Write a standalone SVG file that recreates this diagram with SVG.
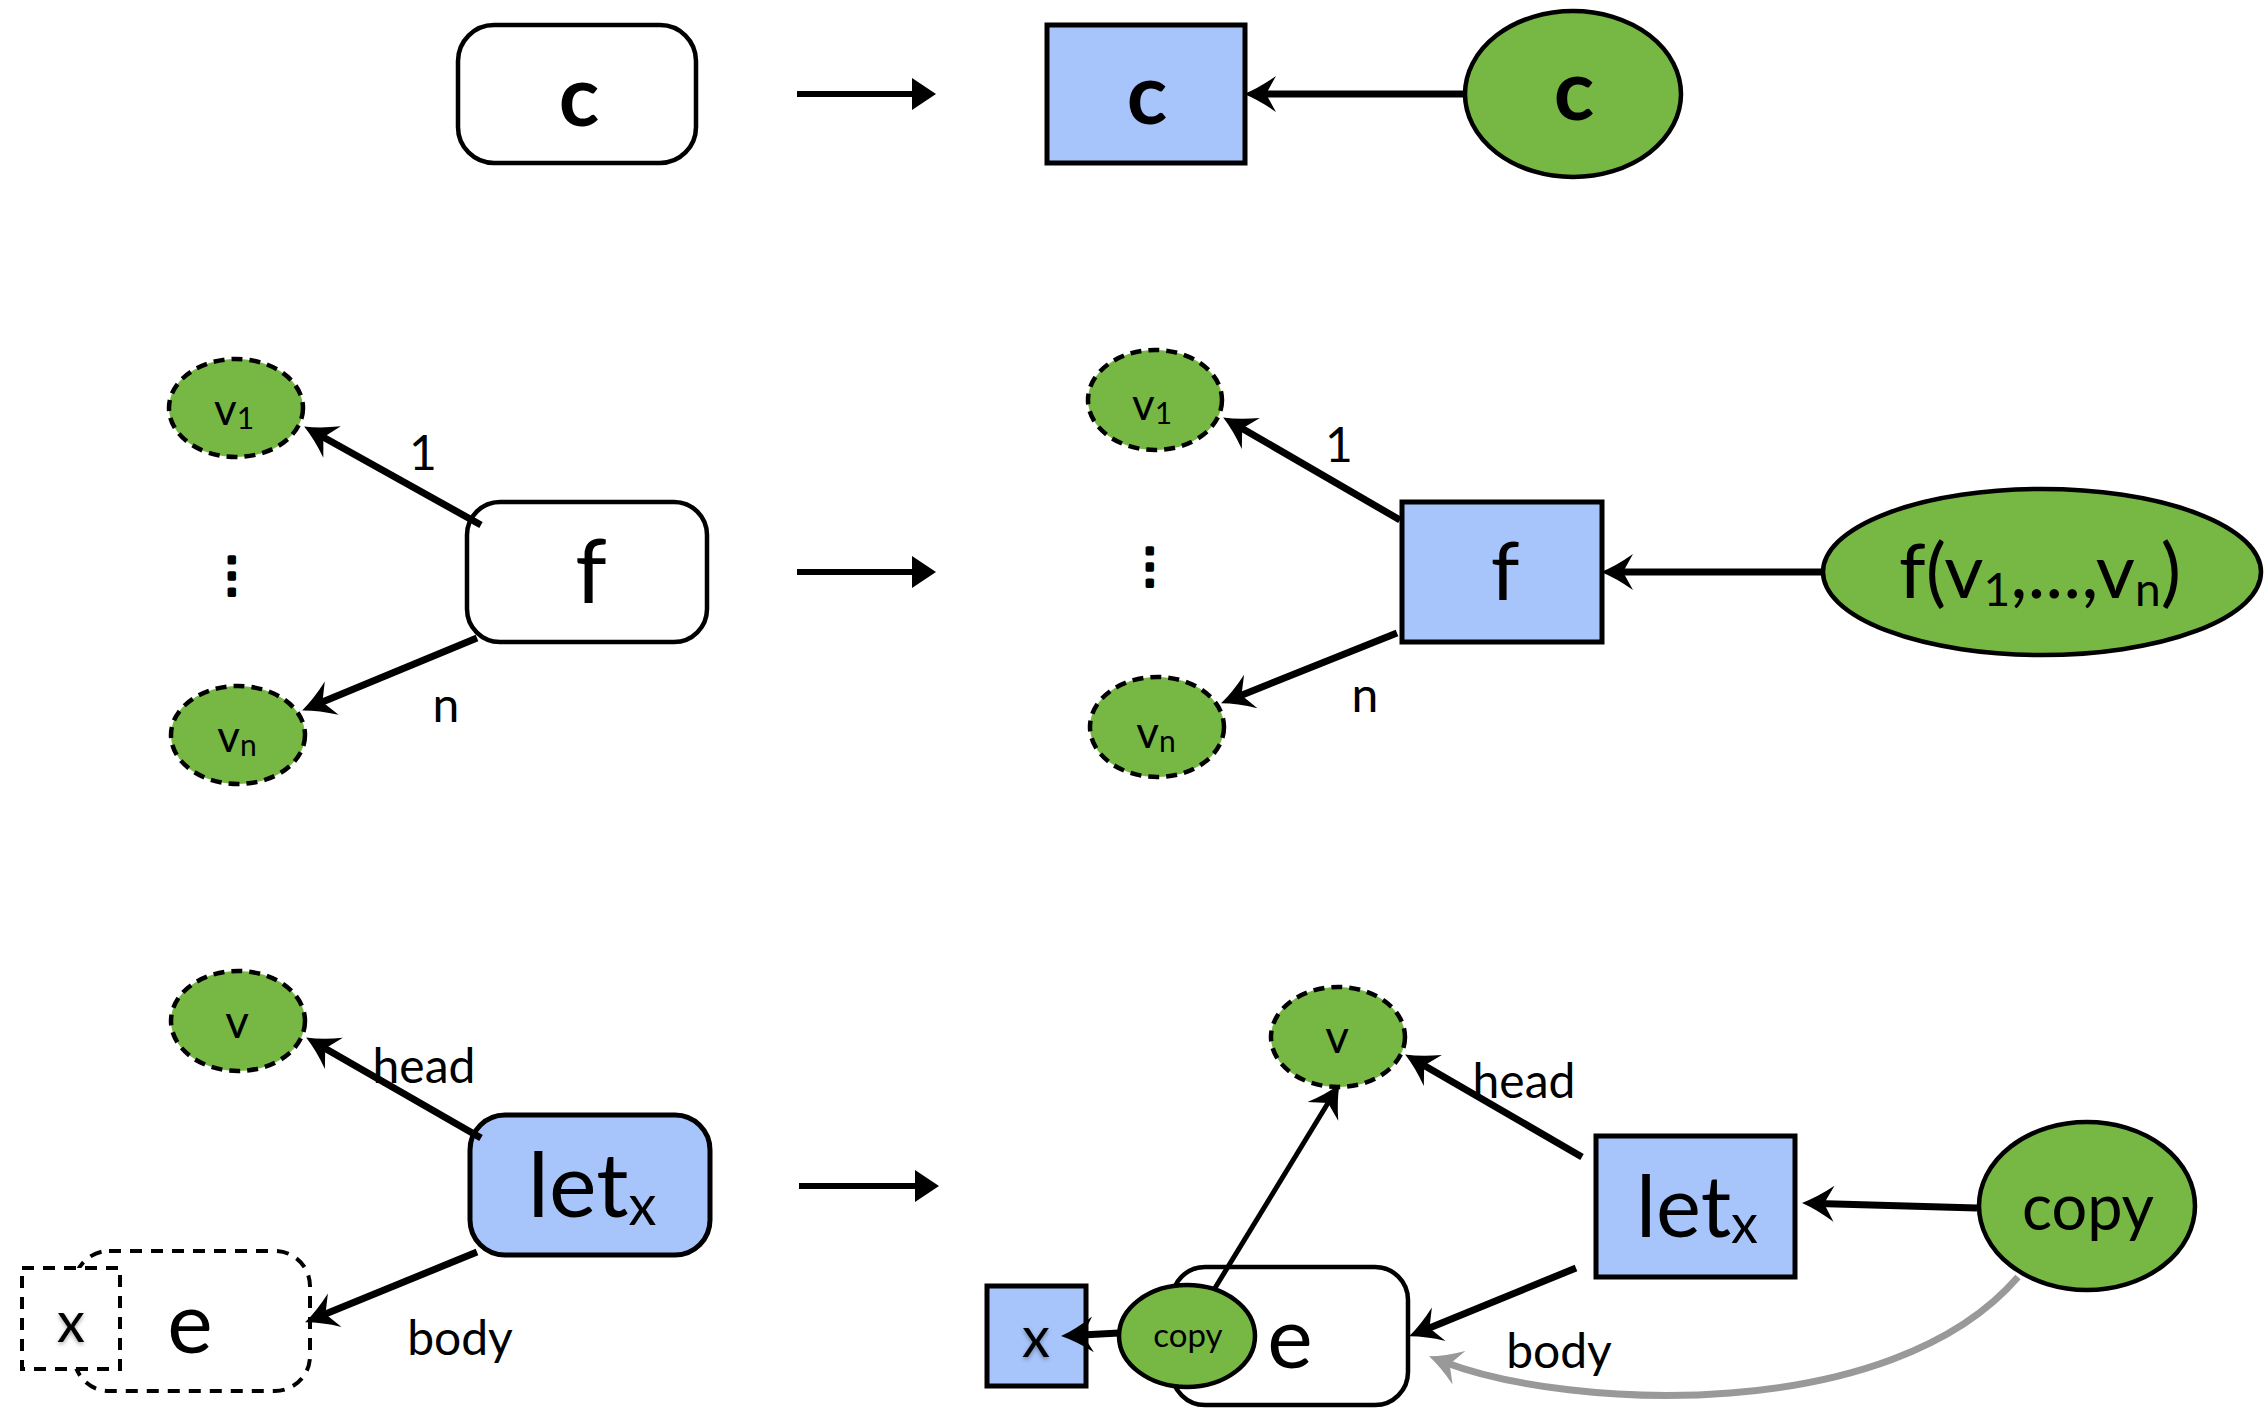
<svg xmlns="http://www.w3.org/2000/svg" width="2265" height="1408" viewBox="0 0 2265 1408">
  <defs>
    <style>
      text{font-family:Lato,"Open Sans","Liberation Sans",sans-serif;fill:#000;text-anchor:middle}
      .plain{fill:#fff;stroke:#000;stroke-width:4.5}
      .val{fill:#A7C5FB;stroke:#000;stroke-width:5}
      .green{fill:#76B843;stroke:#000;stroke-width:4.5}
      .dgreen{fill:#76B843;stroke:#000;stroke-width:4.5;stroke-dasharray:11 7}
      .dash{fill:#fff;stroke:#000;stroke-width:4;stroke-dasharray:12 9}
      .edge{fill:none;stroke:#000;stroke-width:7;marker-end:url(#stealth)}
      .thin{fill:none;stroke:#000;stroke-width:5;marker-end:url(#stealth)}
      .step{fill:none;stroke:#000;stroke-width:6;marker-end:url(#tri)}
      .grey{fill:none;stroke:#999;stroke-width:7;marker-end:url(#stealthGrey)}
      .lab{font-size:48px}
      .big{font-size:84px;font-weight:bold}
      .dots{font-family:"DejaVu Sans",sans-serif;font-size:48px;stroke:#000;stroke-width:3.5;stroke-linejoin:round}
    </style>
    <marker id="stealth" viewBox="-34 -19 36 38" markerWidth="36" markerHeight="38" refX="-16" refY="0" orient="auto" markerUnits="userSpaceOnUse">
      <path d="M0,0 Q-15,-6 -32,-18 L-22,0 L-32,18 Q-15,6 0,0 Z" fill="#000"/>
    </marker>
    <marker id="stealthGrey" viewBox="-34 -19 36 38" markerWidth="36" markerHeight="38" refX="-16" refY="0" orient="auto" markerUnits="userSpaceOnUse">
      <path d="M0,0 Q-15,-6 -32,-18 L-22,0 L-32,18 Q-15,6 0,0 Z" fill="#999"/>
    </marker>
    <marker id="tri" viewBox="-26 -18 28 36" markerWidth="28" markerHeight="36" refX="-10" refY="0" orient="auto" markerUnits="userSpaceOnUse">
      <path d="M0,0 L-24,-16 L-24,16 Z" fill="#000"/>
    </marker>
    <filter id="soft" x="-50%" y="-50%" width="200%" height="200%">
      <feDropShadow dx="0" dy="2" stdDeviation="2" flood-color="#000" flood-opacity="0.35"/>
    </filter>
  </defs>

  <!-- row 1: constant -->
  <g id="c-src">
    <rect class="plain" x="458" y="25" width="238" height="138" rx="36"/>
    <text class="big" x="579" y="126">c</text>
  </g>
  <g id="c-val">
    <rect class="val" x="1047" y="25" width="198" height="138"/>
    <text class="big" x="1147" y="124">c</text>
  </g>
  <g id="c-const">
    <ellipse class="green" cx="1573" cy="94" rx="108" ry="83"/>
    <text class="big" x="1574" y="120">c</text>
  </g>

  <!-- row 2: application -->
  <g id="v1-src">
    <ellipse class="dgreen" cx="236" cy="408" rx="67" ry="49"/>
    <text x="234" y="425" font-size="44">v<tspan font-size="30" dy="4">1</tspan></text>
  </g>
  <g id="vn-src">
    <ellipse class="dgreen" cx="238" cy="735" rx="67" ry="49"/>
    <text x="237" y="752" font-size="44">v<tspan font-size="30" dy="4">n</tspan></text>
  </g>
  <g id="f-src">
    <rect class="plain" x="467" y="502" width="240" height="140" rx="33"/>
    <text x="591" y="603" font-size="90">f</text>
  </g>
  <text id="dots-src" class="dots" x="232" y="591">⋮</text>

  <g id="v1-tgt">
    <ellipse class="dgreen" cx="1155" cy="400" rx="67" ry="50"/>
    <text x="1152" y="420" font-size="44">v<tspan font-size="30" dy="4">1</tspan></text>
  </g>
  <g id="vn-tgt">
    <ellipse class="dgreen" cx="1157" cy="727" rx="67" ry="50"/>
    <text x="1156" y="748" font-size="44">v<tspan font-size="30" dy="4">n</tspan></text>
  </g>
  <g id="f-val">
    <rect class="val" x="1402" y="502" width="200" height="140"/>
    <text x="1505" y="600" font-size="82">f</text>
  </g>
  <g id="f-const">
    <ellipse class="green" cx="2042" cy="572" rx="219" ry="83"/>
    <text x="2040" y="598" font-size="76">f(v<tspan font-size="46" dy="8">1</tspan><tspan dy="-8">,...,v</tspan><tspan font-size="46" dy="8">n</tspan><tspan dy="-8">)</tspan></text>
  </g>
  <text id="dots-tgt" class="dots" x="1150" y="582">⋮</text>

  <!-- row 3: let -->
  <g id="v-src">
    <ellipse class="dgreen" cx="238" cy="1021" rx="67" ry="50"/>
    <text x="237" y="1038" font-size="46">v</text>
  </g>
  <g id="let-src">
    <rect class="val" x="470" y="1115" width="240" height="140" rx="35"/>
    <text x="592" y="1217" font-size="90">let<tspan font-size="56" dy="8">x</tspan></text>
  </g>
  <g id="e-src">
    <rect class="dash" x="74" y="1251" width="236" height="140" rx="35"/>
    <text x="190" y="1353" font-size="86">e</text>
  </g>
  <g id="x-src">
    <rect class="dash" x="22" y="1268" width="98" height="101"/>
    <text x="71" y="1342" font-size="56" filter="url(#soft)">x</text>
  </g>

  <g id="v-tgt">
    <ellipse class="dgreen" cx="1338" cy="1037" rx="67" ry="50"/>
    <text x="1337" y="1053" font-size="46">v</text>
  </g>
  <g id="let-val">
    <rect class="val" x="1596" y="1136" width="199" height="141"/>
    <text x="1697" y="1237" font-size="85">let<tspan font-size="54" dy="6">x</tspan></text>
  </g>
  <g id="e-tgt">
    <rect class="plain" x="1172" y="1267" width="236" height="138" rx="33"/>
    <text x="1290" y="1368" font-size="86">e</text>
  </g>
  <g id="copy-inner">
    <ellipse class="green" cx="1187" cy="1336" rx="68" ry="51"/>
    <text x="1188" y="1347" font-size="33">copy</text>
  </g>
  <g id="x-val">
    <rect class="val" x="987" y="1286" width="99" height="100"/>
    <text x="1036" y="1357" font-size="56" filter="url(#soft)">x</text>
  </g>
  <g id="copy-outer">
    <ellipse class="green" cx="2087" cy="1206" rx="108" ry="84"/>
    <text x="2088" y="1230" font-size="63">copy</text>
  </g>

  <!-- edge labels -->
  <g id="labels">
    <text class="lab" x="423" y="470">1</text>
    <text class="lab" x="446" y="722">n</text>
    <text class="lab" x="1339" y="462">1</text>
    <text class="lab" x="1365" y="712">n</text>
    <text class="lab" x="424" y="1083">head</text>
    <text class="lab" x="460" y="1355">body</text>
    <text class="lab" x="1524" y="1098">head</text>
    <text class="lab" x="1559" y="1368">body</text>
  </g>

  <!-- connectors -->
  <g id="connectors">
    <path class="step" d="M797,94 L926,94"/>
    <path class="step" d="M797,572 L926,572"/>
    <path class="step" d="M799,1186 L929,1186"/>

    <path class="edge" d="M1465,94 L1260,94"/>

    <path class="edge" d="M481,525 L318.1,434.3"/>
    <path class="edge" d="M477,638 L316.9,704.3"/>

    <path class="edge" d="M1400,520 L1237,425.5"/>
    <path class="edge" d="M1397,633 L1235.9,697.4"/>
    <path class="edge" d="M1824,572 L1617,572"/>

    <path class="edge" d="M481,1138 L320,1045.5"/>
    <path class="edge" d="M477,1252 L319.9,1316.3"/>

    <path class="edge" d="M1582,1157 L1419,1062.5"/>
    <path class="edge" d="M1576,1268 L1423.9,1330.3"/>
    <path class="edge" d="M1977,1208 L1818,1203.4"/>
    <path class="thin" d="M1215,1288 L1331.2,1097.8"/>
    <path class="edge" d="M1119,1333 L1077,1335.2"/>
    <path class="grey" d="M2018,1277 C1890,1425 1570,1410 1444,1362"/>
  </g>
</svg>
